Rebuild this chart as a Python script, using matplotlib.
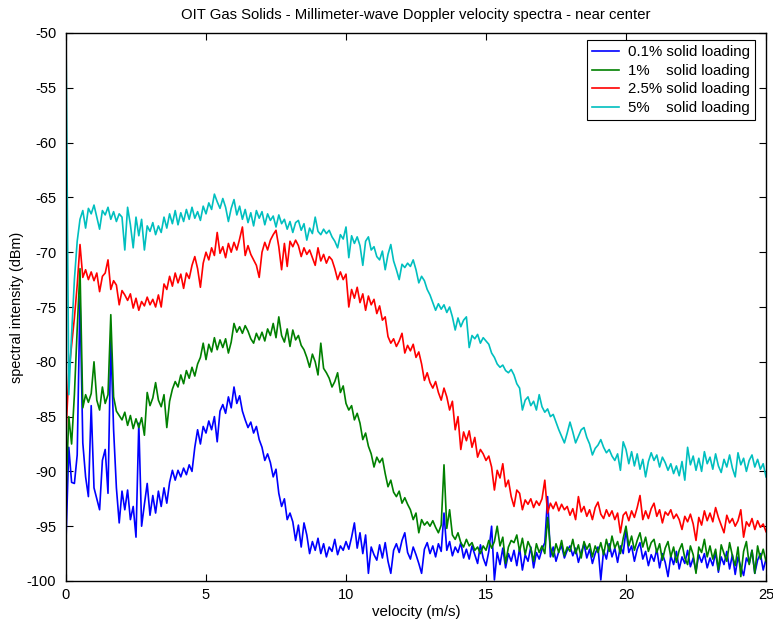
import numpy as np
import matplotlib
matplotlib.use("Agg")
import matplotlib.pyplot as plt

plt.rcParams['font.family'] = ['Liberation Sans', 'DejaVu Sans']
plt.rcParams['axes.unicode_minus'] = False

# velocity axis (m/s), 0.1 m/s bins
velocity = np.round(np.arange(0, 25.05, 0.1), 1)

# spectral intensity (dBm), one row per 1 m/s
spec_5 = [
    -50.0, -83.0, -77.5, -72.5, -69.0, -67.0, -66.2, -67.8, -66.0, -66.5,
    -65.7, -66.8, -67.9, -66.2, -66.6, -65.9, -67.0, -66.3, -67.2, -66.5,
    -66.8, -69.8, -65.9, -67.5, -69.6, -66.8, -68.5, -67.0, -69.8, -67.6,
    -68.1, -67.3, -68.4, -67.6, -68.2, -66.8, -67.8, -66.5, -67.4, -66.2,
    -67.5, -66.4, -67.2, -66.1, -67.0, -65.9, -66.9, -66.3, -67.1, -65.8,
    -66.5, -65.5, -66.1, -64.7, -65.4, -66.0, -65.1, -65.9, -67.2, -66.0,
    -65.2, -66.6, -65.8, -67.0, -66.1, -67.3, -66.4, -67.6, -66.2, -66.9,
    -66.3, -67.5, -66.5, -67.1, -66.7, -67.7, -66.6, -67.4, -67.0, -67.9,
    -67.2, -68.2, -67.3, -67.1, -68.0, -67.4, -68.9, -67.8, -68.3, -66.8,
    -68.1, -68.4, -67.9, -68.3, -68.0, -68.6, -69.0, -69.6, -68.4, -68.8,
    -67.7, -70.5, -68.5, -69.2, -68.6, -69.4, -71.2, -69.0, -68.6, -69.8,
    -69.5, -70.4, -70.7, -69.9, -71.6, -70.2, -69.3, -70.8, -71.6, -72.5,
    -71.1, -71.4, -71.0, -71.3, -70.7, -71.6, -72.8, -72.2, -72.6, -73.4,
    -73.9, -74.6, -75.3, -74.7, -75.2, -74.8, -75.5, -75.0, -75.9, -77.1,
    -76.0, -76.8, -76.2, -75.9, -78.7, -77.6, -77.9, -77.5, -78.3, -77.8,
    -78.1, -78.4, -79.2, -79.6, -80.2, -80.5, -80.3, -80.8, -81.0, -80.7,
    -81.2, -82.0, -82.4, -84.4, -83.5, -83.2, -84.0, -83.6, -84.4, -83.0,
    -84.1, -84.6, -84.3, -85.0, -84.8, -85.5, -86.2, -86.8, -87.4, -86.5,
    -85.5, -86.4, -87.4, -86.8, -86.2, -86.0, -86.9, -87.5, -88.5, -87.9,
    -87.6, -87.1, -87.8, -88.3, -88.0, -88.6, -89.0, -88.4, -89.9, -87.3,
    -88.0, -89.3, -88.2, -89.5, -88.4, -89.8, -88.9, -90.5, -89.1, -88.3,
    -89.0, -88.5, -89.6, -88.7, -89.2, -89.9, -89.3, -90.2, -89.5, -90.4,
    -89.1, -90.8, -87.8, -89.4, -88.6, -89.9, -88.8, -90.0, -88.2, -89.3,
    -88.7, -89.8, -88.4, -89.5, -90.1, -88.9, -89.6, -88.5, -89.7, -90.5,
    -88.3, -89.4, -88.8, -90.0, -89.0, -88.5, -89.6, -88.9, -89.8, -89.3,
    -90.5]

spec_25 = [
    -86.5, -81.0, -78.5, -76.0, -73.0, -69.3, -72.3, -71.6, -72.5, -71.8,
    -72.6, -71.9, -73.6, -72.2, -71.9, -70.7, -73.4, -72.6, -73.0, -74.8,
    -73.5, -73.9, -74.4, -73.8, -75.1, -74.2, -75.3, -74.5, -74.9, -74.1,
    -74.8, -74.3, -75.0, -73.9, -75.0, -72.9, -73.4, -72.2, -73.1, -71.9,
    -72.8, -72.0, -73.3, -71.9, -72.4, -71.2, -70.4, -71.5, -73.2, -71.0,
    -70.0, -70.7, -69.6, -70.3, -68.2, -70.1, -69.5, -70.5, -69.2, -70.0,
    -69.1, -69.8, -68.8, -67.7, -70.3, -69.4, -70.2, -70.7, -71.2, -72.3,
    -70.0, -69.1, -69.8, -68.9, -68.4, -68.0, -69.5, -71.6, -69.2, -71.3,
    -69.0, -69.5, -68.9, -69.4, -70.4, -69.6, -70.2, -69.8, -70.5, -71.2,
    -69.6, -70.8, -70.2, -71.0, -70.4, -70.7, -71.5, -72.5, -71.8, -72.5,
    -72.0, -75.0, -73.4, -74.2, -73.2, -74.6, -73.8, -75.3, -74.0, -74.8,
    -74.3, -75.6, -74.9, -76.2, -75.9, -77.7, -78.3, -77.9, -78.6, -78.1,
    -77.4, -79.2, -78.5, -79.0, -78.4, -79.6, -79.1, -80.2, -81.7, -81.0,
    -81.9, -82.4, -81.8, -82.8, -83.5, -82.4, -83.2, -84.4, -83.6, -86.2,
    -85.0, -88.0, -86.4, -87.2, -86.3, -87.8, -86.9, -88.7, -88.0, -88.4,
    -89.0, -88.6, -89.6, -91.7, -89.9, -90.6, -89.3, -91.4, -90.8, -92.3,
    -93.2, -91.7, -92.0, -93.5, -92.6, -93.0, -92.5, -93.3, -92.7, -93.1,
    -92.5, -90.8, -93.8, -92.9, -93.4, -92.8, -93.6, -93.0, -93.5, -93.2,
    -94.0, -93.4, -94.4, -92.3, -93.7, -93.2, -94.1, -93.5, -94.4, -93.3,
    -92.8, -93.9, -94.3, -93.5, -94.1, -93.6, -94.4, -93.8, -95.6, -94.0,
    -93.7, -94.5, -93.6, -94.2, -93.3, -92.2, -94.4, -93.6, -94.3, -93.4,
    -92.9, -94.1, -93.5, -94.7, -93.7, -94.0, -93.5, -94.3, -93.9, -94.4,
    -95.3, -94.1, -94.6, -93.9, -94.8, -96.3, -94.2, -94.9, -93.6, -94.5,
    -93.8, -94.6, -93.3, -94.2, -94.9, -95.6, -94.0, -94.7, -94.3, -95.0,
    -94.5, -93.5, -96.0, -94.6, -95.0, -94.3, -95.3, -94.5, -95.1, -94.8,
    -95.5]

spec_1 = [
    -92.0, -85.0, -87.5, -83.0, -77.0, -71.5, -84.2, -83.0, -83.7, -82.9,
    -80.0, -83.5, -84.4, -82.3, -83.8, -83.0, -75.7, -83.2, -84.5, -84.9,
    -85.3, -84.6, -85.8, -84.9, -86.1, -85.2, -86.0, -85.1, -86.7, -82.8,
    -84.0, -83.3, -81.9, -83.5, -84.1, -83.0, -86.0, -83.6, -82.5, -81.8,
    -82.3, -81.2, -82.0, -80.8, -81.5, -80.5, -81.3, -80.2, -79.6, -78.3,
    -79.8, -78.4, -79.1, -77.8, -78.9, -78.0, -78.7, -77.9, -79.2, -78.2,
    -76.5, -77.3, -76.8, -77.4, -76.7, -77.2, -77.9, -78.3, -77.4, -78.0,
    -77.3, -78.1, -77.0, -77.6, -76.5, -77.8, -75.9, -77.6, -78.2, -77.0,
    -78.6, -77.1, -78.0, -77.6, -78.5, -78.9, -79.6, -80.5, -79.3, -80.0,
    -81.2, -78.3, -80.6, -81.0, -81.5, -82.3, -81.8, -81.0, -82.8, -82.2,
    -83.8, -84.4, -84.0, -85.3, -84.7, -85.6, -87.1, -86.5, -87.7, -88.4,
    -89.6, -88.7, -89.2, -88.8, -90.2, -91.4, -90.8, -91.9, -92.3, -91.8,
    -92.9, -92.4, -93.0, -93.5, -94.4, -93.8, -95.6, -94.4, -94.9, -94.6,
    -95.0, -94.5, -95.1, -95.6, -94.9, -89.4, -95.2, -93.5, -95.8, -96.2,
    -95.6, -96.5, -96.9, -96.2, -96.8, -96.5, -97.2, -96.9, -97.5, -96.8,
    -97.2, -96.3, -97.0, -96.4, -95.0, -96.8, -96.0, -98.4, -96.9, -96.3,
    -96.5, -95.8, -97.3, -96.1, -97.6, -96.4, -97.0, -98.2, -96.6, -97.4,
    -96.8, -97.5, -94.2, -96.9, -97.8, -96.6, -97.4, -96.3, -97.7, -96.9,
    -97.3, -96.2, -97.5, -96.7, -97.9, -96.4, -97.1, -96.6, -97.8, -96.8,
    -97.4, -96.5, -97.6, -96.2, -97.3, -95.9, -97.0, -96.4, -97.5, -96.1,
    -95.0, -96.8, -95.9, -97.2, -96.3, -95.6, -96.9, -96.0, -97.3, -96.5,
    -96.2, -97.4, -96.6, -98.1, -97.0, -96.4, -97.8, -96.9, -98.3, -97.2,
    -96.6, -97.9, -98.5, -96.8, -97.6, -99.3, -96.9, -97.4, -96.2, -97.8,
    -96.8, -98.0, -97.1, -99.0, -96.7, -97.5, -98.2, -96.5, -97.7, -98.6,
    -96.9, -99.6, -97.3, -96.4, -98.5, -97.2, -99.3, -96.8, -98.0, -97.1,
    -98.2]

spec_01 = [
    -96.3, -87.8, -91.0, -91.1, -88.5, -74.0, -87.4, -90.5, -92.3, -84.0,
    -91.5, -92.5, -93.5, -89.0, -88.0, -92.0, -78.0, -86.2, -91.5, -94.7,
    -91.8, -93.5, -91.7, -94.4, -93.2, -96.0, -85.6, -95.0, -93.0, -91.1,
    -94.0, -92.2, -93.8, -91.8, -93.2, -91.5, -92.9, -91.0, -89.9, -90.8,
    -89.9, -90.5, -89.7, -90.3, -89.4, -90.0, -87.8, -86.2, -87.5, -85.9,
    -86.5, -85.4, -86.2, -85.0, -87.3, -84.5, -83.9, -84.7, -83.2, -84.2,
    -82.3, -83.8, -83.1, -84.5, -85.3, -86.0, -85.5, -86.5, -85.9, -87.1,
    -87.8, -89.0, -88.4, -89.2, -90.5, -89.8, -92.0, -93.2, -92.5, -94.4,
    -93.8, -94.6, -96.3, -94.9, -96.9, -94.7, -95.8, -97.5, -96.4, -97.2,
    -96.1, -97.5, -96.6, -97.8, -96.9, -97.3, -96.2, -97.6, -96.8, -97.2,
    -96.4, -97.1, -96.0, -94.7, -97.0, -95.6, -97.5, -95.8, -99.3, -96.9,
    -97.6, -98.1, -96.7, -97.9, -96.5, -98.2, -99.3, -97.2, -96.6, -97.4,
    -96.3, -95.6, -97.4, -98.0, -96.9, -97.6, -98.4, -99.3, -97.1, -96.5,
    -97.5, -96.8, -97.8, -96.6, -97.3, -93.8, -97.2, -96.4, -97.7, -96.9,
    -97.4, -96.5, -97.9, -97.1, -98.0, -96.8, -97.6, -98.4, -96.7, -97.9,
    -98.6, -97.3, -95.0, -99.9, -97.4, -98.5, -97.0, -98.8, -97.5, -98.2,
    -97.2, -98.6, -97.0, -99.0, -97.6, -98.2, -96.9, -98.8, -97.4, -98.0,
    -97.1, -96.5, -92.3, -97.8, -96.9, -98.2, -97.3, -96.8, -97.9, -97.2,
    -96.8, -97.7, -97.0, -98.3, -97.4, -96.6, -97.9, -97.1, -98.4, -97.5,
    -96.9, -99.9, -97.2, -98.0, -96.6, -97.8, -97.0, -98.3, -96.8, -97.5,
    -95.3, -97.4, -96.8, -98.2, -97.1, -96.5, -98.0, -97.3, -98.6, -97.6,
    -98.2, -97.1, -98.8, -97.5, -98.3, -99.6, -97.7, -98.5, -97.3, -98.9,
    -97.8, -98.4, -97.2, -98.7, -97.9, -99.1, -97.6, -98.3, -97.5, -98.8,
    -97.9, -98.6, -97.4, -99.2, -97.8, -98.5, -97.3, -98.9, -97.6, -99.4,
    -97.8, -98.7, -99.5, -97.9, -98.4, -97.2, -99.3, -98.1, -97.5, -99.0,
    -98.0]

labels = ['0.1% solid loading', '1%    solid loading',
          '2.5% solid loading', '5%    solid loading']
colors = ['#0000ff', '#008000', '#ff0000', '#00bfbf']

fig = plt.figure(figsize=(7.73, 6.22), dpi=100)
ax = fig.add_axes([66/773, 41/622, 700/773, 548/622])

for spec, lab, col in zip([spec_01, spec_1, spec_25, spec_5], labels, colors):
    ax.plot(velocity, spec, color=col, lw=1.2, label=lab)

ax.set_xlim(0, 25)
ax.set_ylim(-100, -50)
ax.set_xticks(np.arange(0, 26, 5))
ax.set_yticks(np.arange(-100, -49, 5))
ax.tick_params(direction='in', top=True, right=True, length=5,
               labelsize=10.5, width=0.8)
ax.tick_params(axis='x', pad=5)
ax.tick_params(axis='y', pad=7)
for sp in ax.spines.values():
    sp.set_linewidth(1.0)

ax.set_title('OIT Gas Solids - Millimeter-wave Doppler velocity spectra - near center',
             fontsize=10.7, pad=10)
ax.set_xlabel('velocity (m/s)', fontsize=10.8, labelpad=2)
ax.set_ylabel('spectral intensity (dBm)', fontsize=10.4, labelpad=2)

leg = ax.legend(loc='upper right', bbox_to_anchor=(0.984, 0.987),
                borderaxespad=0, fontsize=10.8, fancybox=False,
                framealpha=1, edgecolor='black', handlelength=1.8,
                handletextpad=0.55, labelspacing=0.3, borderpad=0.35)
leg.get_frame().set_linewidth(0.8)

fig.savefig('out.png', dpi=100)
